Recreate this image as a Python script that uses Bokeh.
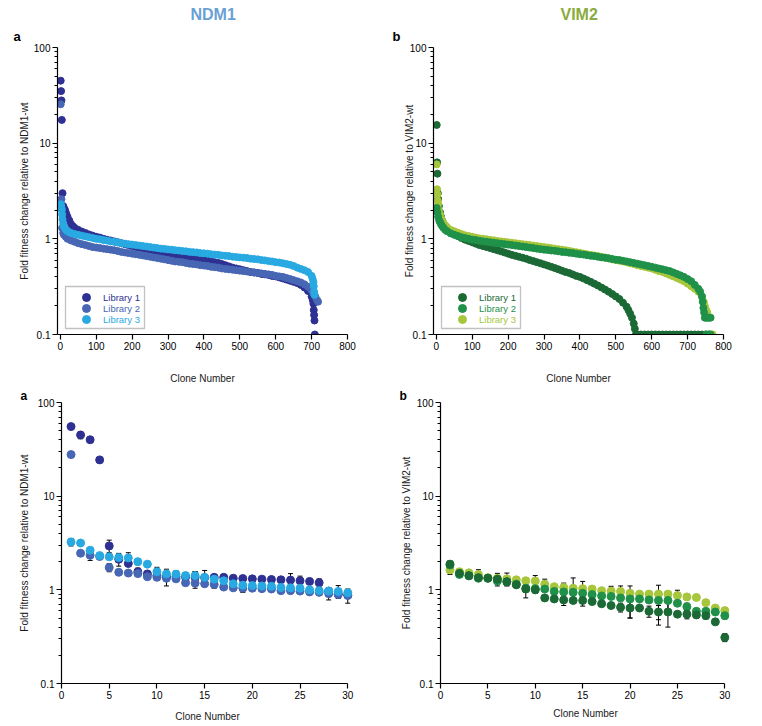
from bokeh.plotting import figure
from bokeh.models import (Range1d, FixedTicker, CustomJSTickFormatter, Legend, LegendItem,
                          BoxAnnotation, Whisker, ColumnDataSource, TeeHead, Title)
from bokeh.layouts import column, row
from bokeh.embed import file_html
from bokeh.resources import INLINE

FONT = "Liberation Sans"

# ---------------- data: full screens (sampled clone ranks) ----------------
ndm1_lib1_clone = [1, 2, 3, 4, 6, 8, 10, 13, 16, 20, 25, 30, 35, 40] + list(range(50, 701, 10)) + [703, 705, 706, 707, 708, 709]
ndm1_lib1_fold = [45, 35, 28, 17.5, 3.0, 2.2, 2.1, 2.0, 1.85, 1.7, 1.55, 1.42, 1.35, 1.3,
                  1.24, 1.19, 1.15, 1.11, 1.08,
                  1.05, 1.03, 1.0, 0.98, 0.96,
                  0.94, 0.92, 0.9, 0.88, 0.86,
                  0.84, 0.82, 0.8, 0.79, 0.77,
                  0.76, 0.74, 0.73, 0.72, 0.7,
                  0.69, 0.68, 0.67, 0.66, 0.65,
                  0.645, 0.635, 0.625, 0.615, 0.605,
                  0.6, 0.59, 0.58, 0.57, 0.56,
                  0.545, 0.53, 0.515, 0.5, 0.49,
                  0.48, 0.47, 0.46, 0.45, 0.445,
                  0.44, 0.43, 0.425, 0.42, 0.41,
                  0.405, 0.395, 0.385, 0.375, 0.365,
                  0.355, 0.345, 0.33, 0.31, 0.285,
                  0.25,
                  0.23, 0.21, 0.18, 0.16, 0.14, 0.10]

ndm1_lib2_clone = [1, 3, 5, 8, 10, 15, 20, 30, 40] + list(range(50, 701, 10)) + [705, 710, 715, 718]
ndm1_lib2_fold = [25.5, 2.6, 1.3, 1.15, 1.1, 1.05, 1.0, 0.96, 0.93,
                  0.9, 0.88, 0.86, 0.84, 0.82,
                  0.81, 0.8, 0.79, 0.78, 0.77,
                  0.76, 0.745, 0.73, 0.72, 0.71,
                  0.7, 0.69, 0.68, 0.67, 0.66,
                  0.65, 0.64, 0.63, 0.62, 0.61,
                  0.6, 0.59, 0.58, 0.575, 0.57,
                  0.56, 0.55, 0.545, 0.54, 0.53,
                  0.525, 0.52, 0.51, 0.505, 0.5,
                  0.49, 0.485, 0.48, 0.475, 0.47,
                  0.465, 0.46, 0.455, 0.45, 0.445,
                  0.44, 0.435, 0.43, 0.425, 0.42,
                  0.41, 0.405, 0.4, 0.39, 0.38,
                  0.37, 0.36, 0.35, 0.335, 0.315,
                  0.29,
                  0.27, 0.25, 0.23, 0.22]

ndm1_lib3_clone = [1, 2, 3, 4, 5, 6, 8, 10, 13, 16, 20, 25, 30, 40] + list(range(50, 701, 10)) + [703, 705, 706, 707, 708]
ndm1_lib3_fold = [2.3, 2.2, 2.1, 2.0, 1.8, 1.6, 1.45, 1.35, 1.28, 1.24, 1.2, 1.17, 1.15, 1.12,
                  1.1, 1.08, 1.06, 1.04, 1.02,
                  1.0, 0.99, 0.97, 0.96, 0.94,
                  0.93, 0.92, 0.9, 0.89, 0.88,
                  0.87, 0.86, 0.85, 0.84, 0.83,
                  0.82, 0.81, 0.8, 0.79, 0.785,
                  0.775, 0.77, 0.76, 0.755, 0.745,
                  0.74, 0.73, 0.725, 0.72, 0.71,
                  0.705, 0.7, 0.69, 0.685, 0.68,
                  0.67, 0.665, 0.66, 0.65, 0.645,
                  0.64, 0.635, 0.63, 0.62, 0.615,
                  0.61, 0.6, 0.595, 0.585, 0.58,
                  0.57, 0.565, 0.555, 0.545, 0.535,
                  0.52, 0.5, 0.485, 0.47, 0.45,
                  0.41,
                  0.38, 0.35, 0.32, 0.28, 0.26]

vim2_lib1_clone = [1, 2, 3, 4, 5, 7, 10, 13, 16, 20, 25, 30, 40] + list(range(50, 551, 10)) + \
                  [535, 545, 553, 556] + list(range(560, 761, 10))
vim2_lib1_fold = [15.5, 6.3, 4.8, 3.0, 2.6, 2.2, 1.9, 1.7, 1.55, 1.45, 1.35, 1.28, 1.2,
                  1.12, 1.07, 1.02, 0.98, 0.95,
                  0.92, 0.89, 0.86, 0.84, 0.82,
                  0.8, 0.78, 0.76, 0.74, 0.72,
                  0.7, 0.68, 0.665, 0.65, 0.635,
                  0.62, 0.6, 0.585, 0.57, 0.555,
                  0.54, 0.525, 0.51, 0.495, 0.48,
                  0.465, 0.45, 0.44, 0.425, 0.41,
                  0.4, 0.385, 0.37, 0.355, 0.34,
                  0.325, 0.31, 0.295, 0.28, 0.265,
                  0.25, 0.235, 0.215, 0.195, 0.165,
                  0.13,
                  0.18, 0.15, 0.115, 0.1,
                  0.1, 0.1, 0.1, 0.1, 0.1, 0.1, 0.1, 0.1, 0.1, 0.1, 0.1,
                  0.1, 0.1, 0.1, 0.1, 0.1, 0.1, 0.1, 0.1, 0.1, 0.1]

vim2_lib2_clone = [1, 3, 5, 8, 10, 13, 16, 20, 25, 30, 40] + list(range(50, 741, 10)) + \
                  [735, 742, 744, 746, 748, 752, 756, 760, 764, 752, 758, 764]
vim2_lib2_fold = [2.1, 1.9, 1.7, 1.55, 1.5, 1.42, 1.36, 1.3, 1.24, 1.2, 1.14,
                  1.1, 1.07, 1.04, 1.02, 1.0,
                  0.98, 0.97, 0.955, 0.94, 0.93,
                  0.92, 0.91, 0.9, 0.89, 0.88,
                  0.87, 0.86, 0.85, 0.84, 0.83,
                  0.82, 0.81, 0.8, 0.79, 0.78,
                  0.77, 0.765, 0.755, 0.75, 0.74,
                  0.73, 0.725, 0.715, 0.71, 0.7,
                  0.69, 0.685, 0.675, 0.665, 0.66,
                  0.65, 0.64, 0.635, 0.625, 0.615,
                  0.605, 0.6, 0.59, 0.58, 0.57,
                  0.56, 0.55, 0.54, 0.53, 0.52,
                  0.51, 0.5, 0.49, 0.48, 0.47,
                  0.46, 0.445, 0.43, 0.415, 0.4,
                  0.38, 0.36, 0.33, 0.3, 0.25,
                  0.28, 0.22, 0.19, 0.17, 0.15, 0.15, 0.15, 0.15, 0.15, 0.1, 0.1, 0.1]

vim2_lib3_clone = [1, 2, 3, 4, 5, 7, 10, 13, 16, 20, 25, 30, 40] + list(range(50, 741, 10)) + \
                  [745, 748, 752, 755, 762, 766, 770]
vim2_lib3_fold = [6.0, 3.3, 2.9, 2.5, 2.3, 2.0, 1.8, 1.65, 1.55, 1.45, 1.38, 1.32, 1.24,
                  1.2, 1.16, 1.12, 1.09, 1.07,
                  1.05, 1.03, 1.01, 1.0, 0.99,
                  0.975, 0.965, 0.95, 0.94, 0.93,
                  0.92, 0.91, 0.9, 0.89, 0.88,
                  0.87, 0.86, 0.85, 0.84, 0.83,
                  0.82, 0.81, 0.8, 0.79, 0.78,
                  0.77, 0.76, 0.75, 0.735, 0.725,
                  0.715, 0.7, 0.69, 0.68, 0.67,
                  0.66, 0.65, 0.635, 0.625, 0.61,
                  0.6, 0.59, 0.58, 0.57, 0.555,
                  0.545, 0.53, 0.52, 0.51, 0.5,
                  0.49, 0.475, 0.46, 0.45, 0.435,
                  0.42, 0.405, 0.39, 0.375, 0.36,
                  0.34, 0.32, 0.3, 0.28, 0.25,
                  0.22, 0.2, 0.18, 0.17, 0.1, 0.1, 0.1]

# ---------------- data: top 30 clones (mean and error) ----------------
clone_top = [1, 2, 3, 4, 5, 6, 7, 8, 9, 10, 11, 12, 13, 14, 15,
             16, 17, 18, 19, 20, 21, 22, 23, 24, 25, 26, 27, 28, 29, 30]

ndm1_top_lib1 = [55.3, 45, 40, 24.4, 2.94, 2.12, 1.91, 1.56, 1.48, 1.42, 1.38, 1.38, 1.37, 1.36, 1.35,
                 1.36, 1.36, 1.33, 1.32, 1.31, 1.30, 1.29, 1.28, 1.27, 1.25, 1.23, 1.19, 0.97, 0.9, 0.88]
ndm1_top_lib1_err = [2, 4, 1, 1, 0.45, 0.33, 0.1, 0.15, 0.05, 0.08, 0.28, 0.08, 0.05, 0.2, 0.08,
                     0.05, 0.05, 0.04, 0.05, 0.07, 0.04, 0.04, 0.05, 0.22, 0.15, 0.04, 0.12, 0.08, 0.05, 0.05]
ndm1_top_lib2 = [27.8, 2.46, 2.34, 2.27, 1.73, 1.54, 1.51, 1.49, 1.38, 1.36, 1.33, 1.31, 1.19, 1.18, 1.16,
                 1.14, 1.07, 1.05, 1.04, 1.04, 1.03, 1.02, 0.98, 0.98, 0.97, 0.95, 0.94, 0.91, 0.89, 0.87]
ndm1_top_lib2_err = [2, 0.12, 0.28, 0.15, 0.17, 0.03, 0.05, 0.08, 0.05, 0.08, 0.05, 0.06, 0.03, 0.14, 0.05,
                     0.1, 0.03, 0.04, 0.1, 0.04, 0.05, 0.04, 0.03, 0.03, 0.03, 0.04, 0.04, 0.13, 0.05, 0.15]
ndm1_top_lib3 = [3.24, 3.16, 2.65, 2.32, 2.25, 2.21, 2.19, 2.0, 1.88, 1.56, 1.48, 1.47, 1.42, 1.42, 1.36,
                 1.3, 1.25, 1.16, 1.12, 1.11, 1.1, 1.09, 1.06, 1.05, 1.04, 1.0, 0.98, 0.97, 0.96, 0.93]
ndm1_top_lib3_err = [0.3, 0.05, 0.05, 0.1, 0.1, 0.12, 0.3, 0.15, 0.03, 0.18, 0.08, 0.12, 0.04, 0.15, 0.25,
                     0.06, 0.05, 0.04, 0.04, 0.04, 0.04, 0.04, 0.04, 0.1, 0.04, 0.04, 0.05, 0.05, 0.15, 0.05]

vim2_top_lib1 = [1.88, 1.50, 1.41, 1.35, 1.33, 1.3, 1.22, 1.13, 1.02, 1.0, 0.82, 0.8, 0.78, 0.77, 0.77,
                 0.75, 0.71, 0.68, 0.65, 0.64, 0.64, 0.59, 0.58, 0.58, 0.55, 0.55, 0.54, 0.53, 0.455, 0.31]
vim2_top_lib1_err = [0.15, 0.05, 0.04, 0.04, 0.03, 0.2, 0.12, 0.04, 0.2, 0.08, 0.05, 0.04, 0.1, 0.05, 0.1,
                     0.03, 0.03, 0.04, 0.07, 0.14, 0.04, 0.08, 0.1, 0.18, 0.03, 0.06, 0.04, 0.04, 0.03, 0.03]
vim2_top_lib2 = [1.84, 1.46, 1.42, 1.33, 1.33, 1.24, 1.22, 1.15, 1.04, 1.03, 1.02, 0.96, 0.95, 0.94, 0.92,
                 0.89, 0.86, 0.85, 0.82, 0.8, 0.8, 0.78, 0.77, 0.77, 0.72, 0.66, 0.59, 0.59, 0.58, 0.53]
vim2_top_lib2_err = [0.1, 0.04, 0.04, 0.04, 0.03, 0.05, 0.05, 0.04, 0.1, 0.05, 0.05, 0.04, 0.05, 0.04, 0.05,
                     0.04, 0.03, 0.04, 0.05, 0.3, 0.04, 0.05, 0.35, 0.18, 0.05, 0.06, 0.04, 0.04, 0.03, 0.04]
vim2_top_lib3 = [1.63, 1.56, 1.52, 1.46, 1.35, 1.33, 1.31, 1.28, 1.25, 1.24, 1.15, 1.08, 1.06, 1.04, 1.03,
                 1.02, 0.98, 0.97, 0.96, 0.92, 0.9, 0.9, 0.9, 0.9, 0.87, 0.84, 0.83, 0.73, 0.64, 0.6]
vim2_top_lib3_err = [0.17, 0.04, 0.04, 0.18, 0.03, 0.05, 0.2, 0.04, 0.04, 0.18, 0.15, 0.04, 0.12, 0.3, 0.2,
                     0.06, 0.03, 0.12, 0.14, 0.04, 0.03, 0.04, 0.04, 0.05, 0.12, 0.03, 0.03, 0.04, 0.03, 0.03]

library_names = ["Library 1", "Library 2", "Library 3"]
ndm1_colors = ["#2e3192", "#4767b4", "#29a9e1"]
vim2_colors = ["#1b6a36", "#1f9149", "#a8c63c"]
y_major = [0.1, 1, 10, 100]
y_minor = [0.2, 0.3, 0.4, 0.5, 0.6, 0.7, 0.8, 0.9, 2, 3, 4, 5, 6, 7, 8, 9,
           20, 30, 40, 50, 60, 70, 80, 90]
x_ticks_full = [0, 100, 200, 300, 400, 500, 600, 700, 800]
x_ticks_top = [0, 5, 10, 15, 20, 25, 30]


def pairs(xs, ys):
    n = min(len(xs), len(ys))
    return list(xs[:n]), list(ys[:n])


def base_fig(width, height, xr, borders, ylabel, y_standoff, xticks, x_standoff):
    bl, br, bt, bb = borders
    p = figure(width=width, height=height, x_range=xr, y_range=Range1d(0.1, 100),
               y_axis_type="log", output_backend="svg", toolbar_location=None, title=None,
               min_border_left=bl, min_border_right=br, min_border_top=bt, min_border_bottom=bb,
               background_fill_color="white", border_fill_color="white")
    p.outline_line_color = None
    p.xgrid.visible = False
    p.ygrid.visible = False
    for ax in p.axis:
        ax.axis_line_color = "black"
        ax.axis_line_width = 1.2
        ax.major_tick_line_color = "black"
        ax.major_tick_line_width = 1.2
        ax.major_tick_out = 5
        ax.major_tick_in = 0
        ax.minor_tick_out = 3
        ax.minor_tick_in = 0
        ax.minor_tick_line_color = "black"
        ax.major_label_text_font = FONT
        ax.major_label_text_color = "black"
        ax.major_label_text_font_size = "10px"
        ax.major_label_standoff = 2
        ax.axis_label_text_font = FONT
        ax.axis_label_text_font_style = "normal"
        ax.axis_label_text_color = "#1a1a1a"
        ax.axis_label_text_font_size = "10px"
    p.yaxis.ticker = FixedTicker(ticks=y_major, minor_ticks=y_minor)
    p.yaxis.formatter = CustomJSTickFormatter(code="return String(tick);")
    p.yaxis.axis_label = ylabel
    p.yaxis.axis_label_standoff = y_standoff
    p.xaxis.ticker = FixedTicker(ticks=xticks)
    p.xaxis.minor_tick_line_color = None
    p.xaxis.axis_label = "Clone Number"
    p.xaxis.axis_label_standoff = x_standoff
    return p


def add_title(p, text, size, offset, color="black", standoff=0, valign="bottom"):
    p.add_layout(Title(text=text, align="left", offset=offset, standoff=standoff,
                       vertical_align=valign, text_font=FONT, text_font_style="bold",
                       text_font_size=size, text_color=color), "above")


def add_legend(p, renderers, colors):
    row_bottoms = [27, 16, 5]
    for r, name, c, yb in zip(renderers, library_names, colors, row_bottoms):
        leg = Legend(items=[LegendItem(label=name, renderers=[r])], location=(12, yb),
                     padding=0, spacing=0, margin=0, glyph_width=34, glyph_height=20,
                     label_height=20, label_standoff=0, label_text_color=c,
                     label_text_font=FONT, label_text_font_size="9.5px",
                     background_fill_alpha=0, border_line_alpha=0)
        p.add_layout(leg)
    p.add_layout(BoxAnnotation(left=8, right=87, bottom=6, top=48,
                               left_units="screen", right_units="screen",
                               top_units="screen", bottom_units="screen",
                               fill_alpha=0, line_color="#333333", line_width=1.3))


# ---------------- panel a (top): NDM1 full screen ----------------
p1 = base_fig(380, 386, Range1d(-8, 800), (57, 33, 47, 50),
              "Fold fitness change relative to NDM1-wt", 1, x_ticks_full, 20)
r_n = []
for (xs, ys), c in zip([pairs(ndm1_lib1_clone, ndm1_lib1_fold),
                        pairs(ndm1_lib2_clone, ndm1_lib2_fold),
                        pairs(ndm1_lib3_clone, ndm1_lib3_fold)], ndm1_colors):
    r_n.append(p1.scatter(xs, ys, size=7, color=c, line_color=c))
add_legend(p1, r_n, ndm1_colors)
add_title(p1, "a", "13px", -44, standoff=8)
add_title(p1, "NDM1", "16px", 133, "#6aa0d4", standoff=0, valign="bottom")

# ---------------- panel b (top): VIM2 full screen ----------------
p2 = base_fig(374, 386, Range1d(-8, 800), (53, 31, 47, 50),
              "Fold fitness change relative to VIM2-wt", -8, x_ticks_full, 20)
v_series = [pairs(vim2_lib1_clone, vim2_lib1_fold),
            pairs(vim2_lib2_clone, vim2_lib2_fold),
            pairs(vim2_lib3_clone, vim2_lib3_fold)]
r_v = [None, None, None]
for i in [0, 2, 1]:
    xs, ys = v_series[i]
    c = vim2_colors[i]
    r_v[i] = p2.scatter(xs, ys, size=7, color=c, line_color=c)
add_legend(p2, r_v, vim2_colors)
add_title(p2, "b", "13px", -41, standoff=8)
add_title(p2, "VIM2", "16px", 127, "#8aab3e", standoff=0, valign="bottom")


def top30_panel(width, height, borders, ylabel, y_standoff, series, colors, order, x_standoff):
    p = base_fig(width, height, Range1d(0, 30.6), borders, ylabel, y_standoff, x_ticks_top, x_standoff)
    p.xaxis.bounds = (0, 30)
    for i in order:
        vals, err = series[i]
        n = min(len(clone_top), len(vals), len(err))
        src = ColumnDataSource(dict(x=clone_top[:n], y=vals[:n],
                                    lower=[max(v - e, 0.101) for v, e in zip(vals[:n], err[:n])],
                                    upper=[v + e for v, e in zip(vals[:n], err[:n])]))
        w = Whisker(source=src, base="x", lower="lower", upper="upper",
                    line_color="black", line_width=1,
                    upper_head=TeeHead(size=5, line_color="black", line_width=1),
                    lower_head=TeeHead(size=5, line_color="black", line_width=1),
                    level="underlay")
        p.add_layout(w)
    for i in order:
        vals, err = series[i]
        n = min(len(clone_top), len(vals))
        p.scatter(clone_top[:n], vals[:n], size=8, color=colors[i], line_color=colors[i])
    return p


p3 = top30_panel(380, 338, (61, 27, 16, 38), "Fold fitness change relative to NDM1-wt", 5,
                 [(ndm1_top_lib1, ndm1_top_lib1_err), (ndm1_top_lib2, ndm1_top_lib2_err),
                  (ndm1_top_lib3, ndm1_top_lib3_err)], ndm1_colors, [0, 1, 2], 9)
add_title(p3, "a", "12px", -41)

p4 = top30_panel(374, 338, (60, 24, 16, 38), "Fold fitness change relative to VIM2-wt", 2,
                 [(vim2_top_lib1, vim2_top_lib1_err), (vim2_top_lib2, vim2_top_lib2_err),
                  (vim2_top_lib3, vim2_top_lib3_err)], vim2_colors, [2, 1, 0], 6)
add_title(p4, "b", "12px", -41)

layout = column(row(p1, p2), row(p3, p4))
open("out.html", "w").write(file_html(layout, INLINE))
